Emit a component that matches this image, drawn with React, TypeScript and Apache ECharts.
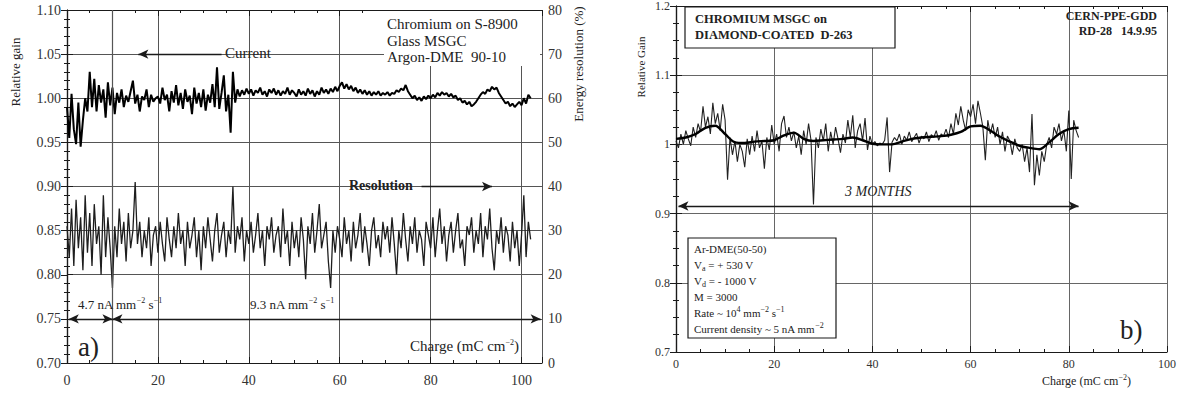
import React, { useEffect, useRef } from "react";
import * as echarts from "echarts";

// ---------- Panel a) data ----------
const A_STEP = 0.5; // mC cm^-2 between samples
const gainA = [
  0.990, 0.955, 1.005, 0.965, 0.948, 0.995, 0.945, 0.975, 1.000, 0.985,
  1.030, 0.990, 1.022, 0.985, 1.015, 0.995, 1.010, 0.978, 1.018, 0.992,
  1.012, 0.982, 1.006, 0.995, 1.010, 0.990, 1.003, 0.996, 1.008, 1.020,
  0.994, 1.004, 0.985, 1.002, 0.998, 1.010, 0.990, 1.004, 0.996, 1.000,
  1.002, 0.994, 1.012, 0.998, 1.004, 0.985, 1.008, 0.995, 1.015, 0.992,
  1.006, 0.988, 1.010, 0.996, 1.003, 0.982, 1.012, 0.994, 1.006, 0.990,
  1.010, 0.986, 1.004, 0.995, 1.016, 0.990, 1.035, 0.988, 1.006, 1.026,
  0.985, 1.004, 0.961, 1.030, 0.995, 1.010, 1.002, 1.009, 1.004, 1.011,
  1.005, 1.010, 1.003, 1.009, 1.006, 1.012, 1.004, 1.008, 1.002, 1.010,
  1.006, 1.011, 1.004, 1.009, 1.003, 1.008, 1.005, 1.012, 1.004, 1.009,
  1.006, 1.002, 1.010, 1.004, 1.008, 1.003, 1.011, 1.005, 1.009, 1.002,
  1.008, 1.004, 1.012, 1.006, 1.010, 1.005, 1.011, 1.007, 1.013, 1.008,
  1.014, 1.018, 1.011, 1.016, 1.010, 1.014, 1.008, 1.012, 1.006, 1.010,
  1.005, 1.009, 1.004, 1.008, 1.003, 1.007, 1.004, 1.008, 1.003, 1.006,
  1.004, 1.007, 1.003, 1.006, 1.005, 1.009, 1.007, 1.011, 1.009, 1.015,
  1.008, 1.004, 1.000, 1.003, 0.998, 1.001, 0.997, 1.002, 0.999, 1.003,
  1.000, 1.004, 1.001, 1.006, 1.003, 1.007, 1.004, 1.006, 1.002, 1.005,
  1.001, 1.003, 0.998, 1.000, 0.995, 0.997, 0.993, 0.996, 0.991, 0.993,
  0.996, 1.000, 1.004, 1.007, 1.005, 1.010, 1.008, 1.013, 1.010, 1.012,
  1.006, 1.002, 0.998, 0.994, 0.996, 0.991, 0.994, 0.990, 0.993, 0.996,
  0.992, 1.000, 0.994, 1.004, 1.000,
];
const resolutionA = [
  31, 24, 35, 22, 37, 26, 33, 21, 38, 25,
  34, 22, 36, 27, 31, 20, 38, 24, 33, 26,
  17, 31, 24, 35, 27, 32, 23, 34, 26, 30,
  41, 27, 32, 24, 30, 26, 33, 22, 29, 31,
  25, 32, 27, 23, 33, 28, 24, 31, 26, 34,
  27, 30, 22, 32, 26, 29, 33, 24, 30, 21,
  31, 26, 33, 28, 23, 30, 34, 25, 29, 32,
  24, 30, 27, 40, 25, 31, 28, 33, 23, 30,
  27, 32, 25, 29, 34, 26, 30, 22, 31, 28,
  33, 25, 29, 31, 24, 35, 27, 30, 22, 32,
  26, 30, 24, 33, 28, 19, 31, 27, 34, 25,
  30, 36, 26, 29, 32, 23, 17, 30, 25, 31,
  28, 24, 33, 27, 30, 23, 32, 26, 29, 34,
  25, 31, 27, 22, 30, 33, 26, 29, 24, 32,
  28, 31, 25, 33, 27, 20, 30, 26, 34, 28,
  23, 31, 27, 33, 25, 30, 28, 22, 32, 29,
  26, 33, 24, 30, 35, 27, 31, 23, 29, 32,
  25, 30, 34, 26, 28, 22, 31, 29, 33, 25,
  30, 27, 34, 24, 31, 28, 35, 26, 21, 30,
  27, 33, 25, 31, 29, 23, 32, 26, 30, 22,
  29, 38, 24, 32, 28,
];
const xTicksA = [0, 20, 40, 60, 80, 100];

// ---------- Panel b) data ----------
const B_STEP = 0.5;
const gainB = [
  1.005, 0.995, 1.015, 1.000, 1.020, 1.008, 0.998, 1.025, 1.010, 1.030,
  1.018, 1.055, 1.025, 1.040, 1.015, 1.060, 1.030, 1.045, 1.020, 1.058,
  1.035, 0.949, 1.010, 0.985, 1.005, 0.975, 1.000, 0.990, 0.967, 1.008,
  0.985, 1.012, 0.990, 1.020, 0.995, 1.005, 0.965, 1.010, 0.992, 1.028,
  1.000, 1.015, 0.990, 1.030, 1.041, 1.010, 1.025, 1.005, 1.018, 0.995,
  1.012, 0.985, 1.020, 1.000, 1.030, 1.006, 0.913, 1.010, 0.995, 1.022,
  1.005, 1.030, 0.990, 1.018, 1.000, 1.025, 1.008, 0.988, 1.015, 1.002,
  1.035, 1.010, 1.042, 0.995, 1.020, 1.030, 1.005, 1.038, 0.992, 1.012,
  1.000, 1.004, 0.998, 1.002, 1.000, 1.006, 1.039, 0.960, 1.003, 1.010,
  1.005, 1.015, 1.000, 1.012, 1.006, 1.018, 1.004, 1.010, 1.016, 1.002,
  1.012, 1.008, 1.018, 1.004, 1.014, 1.010, 1.020, 1.006, 1.015, 1.012,
  1.022, 1.010, 1.030, 1.015, 1.045, 1.028, 1.055, 1.035, 1.020, 1.050,
  1.040, 1.058, 1.030, 1.063, 1.045, 1.025, 0.977, 1.035, 1.015, 1.030,
  1.010, 1.025, 1.000, 1.018, 0.990, 1.012, 1.005, 0.985, 1.008, 0.995,
  0.990, 1.000, 0.975, 0.995, 0.960, 1.044, 0.941, 0.985, 0.955, 0.990,
  0.975, 1.000, 1.010, 0.995, 1.025, 1.015, 1.030, 1.005, 1.020, 0.990,
  1.049, 0.950, 1.035, 1.020, 1.010,
];
const FIT_STEP = 2;
const fitB = [
  1.008, 1.010, 1.015, 1.024, 1.027, 1.015, 1.003, 1.002, 1.004, 1.005,
  1.006, 1.013, 1.017, 1.008, 1.005, 1.006, 1.007, 1.008, 1.010, 1.006,
  1.001, 1.000, 1.000, 1.004, 1.008, 1.010, 1.011, 1.012, 1.014, 1.018,
  1.026, 1.027, 1.020, 1.011, 1.004, 0.998, 0.995, 0.993, 1.003, 1.015,
  1.022, 1.024,
];

const SERIF = "'Liberation Serif', 'DejaVu Serif', serif";
const INK = "#1a1a1a";
const GRIDC = "#555";

function App() {
  const ref = useRef<HTMLDivElement>(null);
  useEffect(() => {
    if (!ref.current) return;
    const chart = echarts.init(ref.current, undefined, { renderer: "svg" });

    const axisLine = { show: true, lineStyle: { color: INK, width: 1.2 } };
    const tick = { show: true, inside: true, length: 6, lineStyle: { color: INK } };
    const minor = (n: number) => ({ show: true, splitNumber: n, length: 3, lineStyle: { color: INK } });
    const labelA = { color: "#333", fontFamily: SERIF, fontSize: 14 };
    const labelB = { color: "#333", fontFamily: SERIF, fontSize: 12 };

    const sup = { fontSize: 8, padding: [0, 0, 7, 0], fontFamily: SERIF, fill: "#222" };
    const sub = { fontSize: 8, padding: [6, 0, 0, 0], fontFamily: SERIF, fill: "#222" };

    const txt = (x: number, y: number, text: string, o: any = {}) => ({
      type: "text",
      x,
      y,
      z: 10,
      rotation: o.rotation || 0,
      style: {
        text,
        fill: o.fill || "#222",
        fontFamily: SERIF,
        fontSize: o.size || 13,
        fontWeight: o.weight || "normal",
        fontStyle: o.style || "normal",
        align: o.align || "left",
        verticalAlign: "middle",
        rich: { s: sup, d: sub },
      },
    });

    const option: any = {
      animation: false,
      backgroundColor: "#fff",
      grid: [
        { left: 67, top: 10, width: 475, height: 353 },
        { left: 676, top: 3, width: 491, height: 349 },
      ],
      xAxis: [
        {
          gridIndex: 0, type: "value", min: 0, max: 104.5, interval: 20,
          axisLine, axisTick: tick, minorTick: minor(4),
          axisLabel: { ...labelA, margin: 10, formatter: (v: number) => (xTicksA.includes(v) ? String(v) : "") },
          splitLine: { show: true, lineStyle: { color: GRIDC, width: 1 } },
        },
        {
          gridIndex: 0, type: "value", position: "top", min: 0, max: 104.5, interval: 20,
          axisLine, axisTick: tick, minorTick: minor(4), axisLabel: { show: false }, splitLine: { show: false },
        },
        {
          gridIndex: 1, type: "value", min: 0, max: 100, interval: 20,
          axisLine, axisTick: tick, minorTick: minor(4),
          axisLabel: { ...labelB, margin: 6 },
          splitLine: { show: true, lineStyle: { color: "#666", width: 1 } },
        },
        {
          gridIndex: 1, type: "value", position: "top", min: 0, max: 100, interval: 20,
          axisLine, axisTick: tick, minorTick: minor(4), axisLabel: { show: false }, splitLine: { show: false },
        },
      ],
      yAxis: [
        {
          gridIndex: 0, type: "value", min: 0.7, max: 1.1, interval: 0.05,
          axisLine, axisTick: tick, minorTick: minor(5),
          axisLabel: { ...labelA, margin: 6, formatter: (v: number) => v.toFixed(2) },
          splitLine: { show: true, lineStyle: { color: GRIDC, width: 1 } },
        },
        {
          gridIndex: 0, type: "value", position: "right", min: 0, max: 80, interval: 10,
          axisLine, axisTick: tick, minorTick: minor(5),
          axisLabel: { ...labelA, margin: 6 },
          splitLine: { show: false },
        },
        {
          gridIndex: 1, type: "value", min: 0.7, max: 1.2, interval: 0.1,
          axisLine, axisTick: tick, minorTick: minor(4),
          axisLabel: { ...labelB, margin: 6, formatter: (v: number) => String(Math.round(v * 10) / 10) },
          splitLine: { show: true, lineStyle: { color: "#666", width: 1 } },
        },
        {
          gridIndex: 1, type: "value", position: "right", min: 0.7, max: 1.2, interval: 0.1,
          axisLine, axisTick: tick, minorTick: minor(4), axisLabel: { show: false }, splitLine: { show: false },
        },
      ],
      series: [
        {
          type: "line", xAxisIndex: 0, yAxisIndex: 1, showSymbol: false, silent: true,
          data: resolutionA.map((v, i) => [i * A_STEP, v]),
          lineStyle: { color: "#1e1e1e", width: 1.3 },
          markLine: {
            silent: true,
            symbol: ["none", "none"],
            label: { show: false },
            lineStyle: { color: GRIDC, width: 1.2, type: "solid" },
            data: [{ xAxis: 10 }],
          },
        },
        {
          type: "line", xAxisIndex: 0, yAxisIndex: 0, showSymbol: false, silent: true,
          data: gainA.map((v, i) => [i * A_STEP, v]),
          lineStyle: { color: "#000", width: 2 },
          markLine: {
            silent: true,
            symbol: ["arrow", "arrow"],
            symbolSize: [7, 10],
            label: { show: false },
            lineStyle: { color: INK, width: 1.4, type: "solid" },
            data: [
              [{ coord: [0.4, 0.75] }, { coord: [10, 0.75] }],
              [{ coord: [10, 0.75] }, { coord: [104.2, 0.75] }],
              [{ coord: [34, 1.05], symbol: "none" }, { coord: [15.7, 1.05] }],
              [{ coord: [78, 0.9], symbol: "none" }, { coord: [93.5, 0.9] }],
            ],
          },
        },
        {
          type: "line", xAxisIndex: 2, yAxisIndex: 2, showSymbol: false, silent: true,
          data: gainB.map((v, i) => [i * B_STEP, v]),
          lineStyle: { color: "#222", width: 1.1 },
          markLine: {
            silent: true,
            symbol: ["arrow", "arrow"],
            symbolSize: [7, 10],
            label: { show: false },
            lineStyle: { color: INK, width: 1.4, type: "solid" },
            data: [[{ coord: [0.5, 0.911] }, { coord: [82, 0.911] }]],
          },
        },
        {
          type: "line", xAxisIndex: 2, yAxisIndex: 2, showSymbol: false, silent: true, smooth: 0.3,
          data: fitB.map((v, i) => [i * FIT_STEP, v]),
          lineStyle: { color: "#000", width: 2.4 },
        },
      ],
      graphic: [
        // panel a
        { type: "rect", z: 9, shape: { x: 384, y: 11, width: 156, height: 55 }, style: { fill: "#fff" } },
        txt(387, 24, "Chromium on S-8900", { size: 15 }),
        txt(387, 41, "Glass MSGC", { size: 15 }),
        txt(387, 57, "Argon-DME  90-10", { size: 15 }),
        txt(15, 72, "Relative gain", { size: 13, align: "center", rotation: Math.PI / 2 }),
        txt(578, 64, "Energy resolution (%)", { size: 13, align: "center", rotation: Math.PI / 2 }),
        txt(225, 53, "Current", { size: 15 }),
        txt(349, 185, "Resolution", { size: 14, weight: "bold" }),
        txt(78, 304, "4.7 nA mm{s|−2} s{s|−1}", { size: 13 }),
        txt(250, 304, "9.3 nA mm{s|−2} s{s|−1}", { size: 13 }),
        txt(78, 347, "a)", { size: 27 }),
        txt(410, 346, "Charge (mC cm{s|−2})", { size: 15 }),
        // panel b
        txt(641, 67, "Relative Gain", { size: 11, align: "center", rotation: Math.PI / 2 }),
        { type: "rect", z: 9, shape: { x: 685, y: 7, width: 210, height: 41 }, style: { fill: "#fff", stroke: INK, lineWidth: 1.2 } },
        txt(695, 19, "CHROMIUM MSGC on", { size: 12.5, weight: "bold" }),
        txt(695, 35, "DIAMOND-COATED  D-263", { size: 12.5, weight: "bold" }),
        txt(1157, 16, "CERN-PPE-GDD", { size: 12, weight: "bold", align: "right" }),
        txt(1157, 31, "RD-28   14.9.95", { size: 12, weight: "bold", align: "right" }),
        txt(845, 191, "3 MONTHS", { size: 14, style: "italic" }),
        { type: "rect", z: 9, shape: { x: 688, y: 238, width: 148, height: 100 }, style: { fill: "#fff", stroke: INK, lineWidth: 1.2 } },
        txt(694, 249, "Ar-DME(50-50)", { size: 11 }),
        txt(694, 265, "V{d|a} = + 530 V", { size: 11 }),
        txt(694, 281, "V{d|d} = - 1000 V", { size: 11 }),
        txt(694, 297, "M = 3000", { size: 11 }),
        txt(694, 313, "Rate ~ 10{s|4} mm{s|−2} s{s|−1}", { size: 11 }),
        txt(694, 329, "Current density ~ 5 nA mm{s|−2}", { size: 11 }),
        txt(1042, 381, "Charge (mC cm{s|−2})", { size: 12 }),
        txt(1120, 330, "b)", { size: 27 }),
      ],
    };
    chart.setOption(option);
    return () => chart.dispose();
  }, []);
  return (
    <div
      ref={ref}
      style={{ position: "fixed", left: 0, top: 0, width: 1182, height: 395, background: "#fff" }}
    />
  );
}

export default App;
